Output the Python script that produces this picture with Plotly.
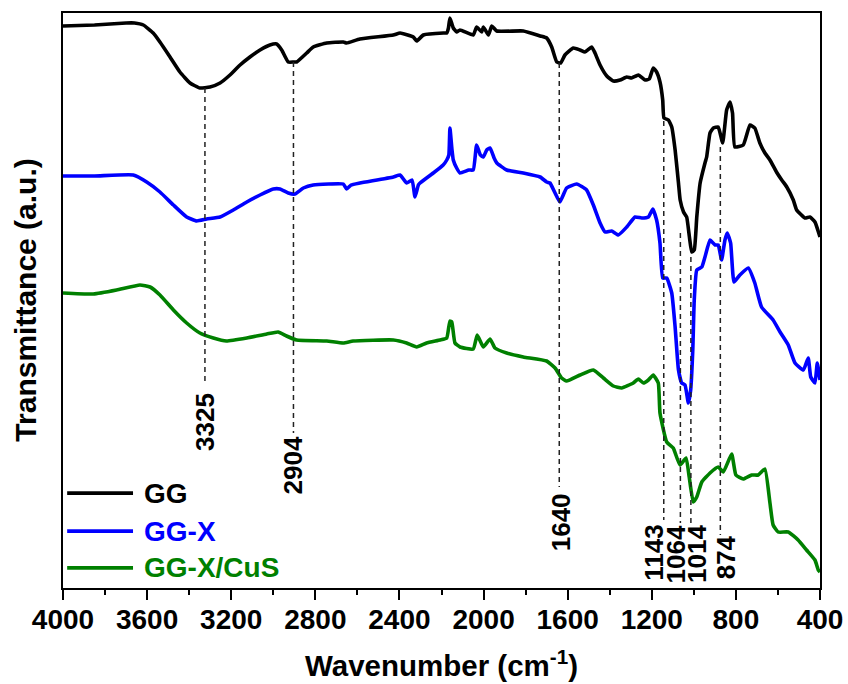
import plotly.graph_objects as go

# ---- FTIR spectra (transmittance in arbitrary units, curves stacked) ----
wn_gg = [4000, 3850, 3700, 3660, 3618, 3571, 3539, 3491, 3444, 3396, 3349, 3301, 3253,
         3206, 3158, 3111, 3063, 3016, 2984, 2960, 2929, 2904, 2889, 2841, 2810, 2746,
         2667, 2651, 2588, 2429, 2397, 2334, 2318, 2286, 2191, 2175, 2167, 2160, 2144,
         2128, 2112, 2049, 2033, 2009, 2001, 1977, 1961, 1937, 1811, 1731, 1700, 1676,
         1652, 1633, 1613, 1573, 1541, 1518, 1486, 1470, 1446, 1414, 1383, 1351, 1319,
         1296, 1264, 1232, 1212, 1193, 1177, 1161, 1148, 1142, 1121, 1105, 1089, 1073,
         1065, 1049, 1034, 1021, 1010, 998, 986, 970, 947, 939, 923, 907, 884, 863, 844,
         828, 816, 805, 765, 733, 710, 686, 662, 638, 607, 582, 558, 527, 511, 472, 448,
         424, 400]
t_gg = [562, 563, 565, 565, 563, 555, 546, 531, 516, 505, 500, 501, 505,
        513, 523, 531, 538, 543, 544, 538, 526, 526, 526, 535, 541, 545,
        546, 545, 549, 553, 555, 551, 547, 553, 555, 555, 560, 570, 560,
        556, 558, 553, 561, 556, 561, 553, 562, 557, 557, 552, 550, 541,
        526, 525, 533, 540, 538, 536, 541, 535, 523, 512, 507, 508, 511,
        510, 513, 508, 509, 520, 516, 506, 488, 470, 468, 461, 438, 405,
        388, 376, 371, 351, 336, 338, 371, 405, 425, 431, 455, 460, 461, 445, 478,
        486, 475, 441, 443, 463, 460, 445, 435, 428, 416, 408, 401, 388, 378, 370, 371,
        366, 351]

wn_ggx = [4000, 3850, 3666, 3602, 3539, 3475, 3412, 3364, 3317, 3253, 3190, 3126, 3063,
          3000, 2968, 2929, 2897, 2857, 2810, 2667, 2651, 2630, 2588, 2429, 2397, 2366,
          2340, 2326, 2310, 2302, 2239, 2192, 2175, 2165, 2160, 2150, 2144, 2128, 2112,
          2070, 2049, 2033, 2015, 2001, 1985, 1969, 1950, 1937, 1890, 1811, 1731, 1700,
          1684, 1660, 1637, 1605, 1557, 1510, 1478, 1446, 1422, 1391, 1359, 1319, 1280,
          1248, 1216, 1195, 1177, 1161, 1148, 1129, 1105, 1089, 1073, 1058, 1042, 1026,
          1015, 1005, 998, 986, 962, 947, 923, 899, 884, 868, 852, 841, 825, 809, 781,
          741, 710, 678, 623, 590, 551, 519, 479, 456, 444, 424, 413, 400]
t_ggx = [412, 412, 413, 406, 396, 383, 371, 367, 369, 371, 378, 386, 393,
         399, 399, 395, 394, 400, 403, 404, 399, 403, 405, 411, 413, 405,
         408, 391, 403, 405, 415, 423, 428, 433, 460, 438, 428, 420, 415,
         418, 418, 443, 433, 431, 438, 440, 430, 425, 418, 415, 411, 406,
         405, 395, 386, 400, 404, 398, 383, 365, 356, 357, 353, 361, 371,
         370, 371, 379, 368, 345, 310, 310, 295, 261, 218, 205, 203, 185,
         198, 238, 288, 318, 321, 331, 348, 343, 343, 328, 348, 355, 345, 306, 313,
         320, 305, 281, 268, 256, 243, 225, 218, 230, 211, 205, 225, 208]

wn_cus = [4000, 3856, 3745, 3634, 3586, 3539, 3475, 3412, 3349, 3285, 3223, 3126, 3031,
          2977, 2937, 2889, 2746, 2667, 2620, 2429, 2366, 2318, 2271, 2207, 2175, 2160,
          2151, 2136, 2112, 2049, 2030, 2001, 1969, 1946, 1890, 1811, 1700, 1660, 1629,
          1605, 1541, 1478, 1430, 1383, 1343, 1288, 1264, 1240, 1216, 1193, 1169, 1161,
          1129, 1098, 1066, 1037, 1022, 1003, 986, 962, 923, 884, 860, 820, 800, 765,
          725, 694, 662, 638, 623, 599, 551, 504, 464, 424, 408, 400]
t_cus = [295, 294, 298, 303, 301, 293, 278, 265, 255, 250, 247, 250, 254,
         256, 252, 248, 247, 245, 247, 248, 245, 241, 245, 248, 250, 267,
         266, 245, 241, 239, 253, 241, 249, 240, 235, 231, 227, 220, 210,
         207, 213, 218, 210, 202, 200, 205, 209, 205, 208, 213, 205, 175,
         146, 140, 123, 130, 111, 86, 91, 106, 115, 121, 116, 134, 113, 109,
         113, 113, 119, 85, 63, 56, 56, 48, 38, 28, 18, 16]

series_names = ["GG", "GG-X", "GG-X/CuS"]
series_colors = ["#000000", "#0000ff", "#008000"]

# ---- marked bands: wavenumber, dashed-line top/bottom, label bottom ----
band_wn = [3325, 2904, 1640, 1143, 1064, 1014, 874]
band_top = [500, 526, 525, 467, 355, 331, 441]
band_bottom = [205, 155, 101, 68, 65, 63, 53]
band_label_y = [136, 93, 36, 6, 4, 4, 8]
band_label_shift = [0, 0, 2, -10, -4, 6, 6]

FONT = "Liberation Sans"

fig = go.Figure()

for wn, t, name, color in zip([wn_gg, wn_ggx, wn_cus], [t_gg, t_ggx, t_cus],
                              series_names, series_colors):
    fig.add_trace(go.Scatter(x=wn, y=t, mode="lines", name=name,
                             line=dict(color=color, width=3.6, shape="spline",
                                       smoothing=0.4),
                             showlegend=False))

for wn, top, bot in zip(band_wn, band_top, band_bottom):
    fig.add_trace(go.Scatter(x=[wn, wn], y=[top, bot], mode="lines",
                             line=dict(color="#222222", width=1.5, dash="5px,4px"),
                             showlegend=False, hoverinfo="skip"))

annotations = []
for wn, ly, sh in zip(band_wn, band_label_y, band_label_shift):
    annotations.append(dict(x=wn, y=ly, xref="x", yref="y", text=str(wn),
                            showarrow=False, textangle=-90, xanchor="center",
                            yanchor="bottom", xshift=sh, borderpad=0,
                            font=dict(family=FONT, size=26, color="black",
                                      weight="bold")))

# legend drawn inside the plot area: line sample + coloured label
legend_y = [0.165, 0.099, 0.035]
shapes = []
for name, color, ly in zip(series_names, series_colors, legend_y):
    shapes.append(dict(type="line", xref="paper", yref="paper",
                       x0=0.0055, x1=0.0925, y0=ly, y1=ly,
                       line=dict(color=color, width=3.6)))
    annotations.append(dict(x=0.104, y=ly, xref="paper", yref="paper",
                            text=name, showarrow=False, xanchor="left",
                            yanchor="middle",
                            font=dict(family=FONT, size=28, color=color,
                                      weight="bold")))

annotations.append(dict(x=0.5, y=-0.132, xref="paper", yref="paper",
                        text="Wavenumber (cm<sup>-1</sup>)", showarrow=False,
                        xanchor="center", yanchor="middle",
                        font=dict(family=FONT, size=29.5, color="black",
                                  weight="bold")))
annotations.append(dict(x=-0.05, y=0.5, xref="paper", yref="paper",
                        text="Transmittance (a.u.)", showarrow=False,
                        textangle=-90, xanchor="center", yanchor="middle",
                        font=dict(family=FONT, size=30, color="black",
                                  weight="bold")))

fig.update_layout(
    width=848, height=684, autosize=False,
    margin=dict(l=63, r=28, t=13, b=96, autoexpand=False),
    plot_bgcolor="white", paper_bgcolor="white",
    annotations=annotations, shapes=shapes,
    showlegend=False,
)

fig.update_xaxes(
    range=[4000, 400], tickmode="array",
    tickvals=[4000, 3600, 3200, 2800, 2400, 2000, 1600, 1200, 800, 400],
    ticks="outside", ticklen=10, tickwidth=2, tickcolor="black",
    ticklabelstandoff=-5,
    minor=dict(dtick=200, ticks="outside", ticklen=5, tickwidth=2,
               tickcolor="black", tick0=0),
    showline=True, linewidth=2, linecolor="black", mirror=True,
    showgrid=False, zeroline=False, automargin=False,
    tickfont=dict(family=FONT, size=28, color="black", weight="bold"),
)
fig.update_yaxes(
    range=[0, 575], showticklabels=False, ticks="",
    showline=True, linewidth=2, linecolor="black", mirror=True,
    showgrid=False, zeroline=False, automargin=False,
)

fig.write_html("out.html")
